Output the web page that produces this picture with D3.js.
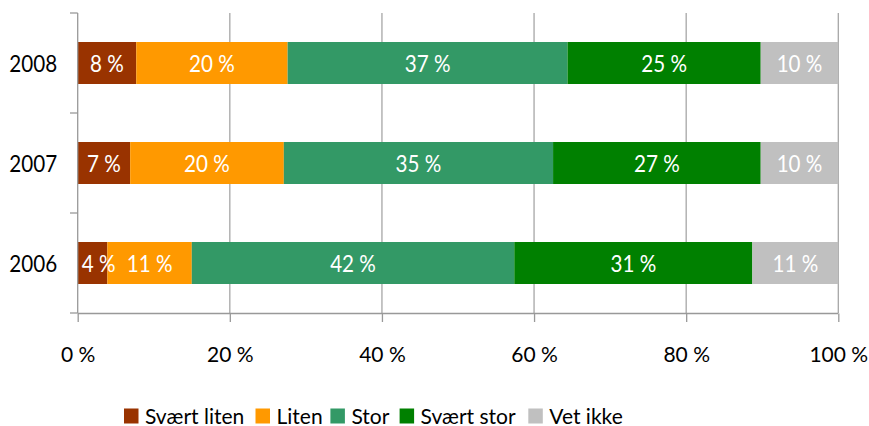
<!DOCTYPE html>
<html><head><meta charset="utf-8">
<script src="https://cdn.jsdelivr.net/npm/d3@7"></script>
<style>html,body{margin:0;padding:0;background:#fff;} svg{display:block;font-family:Lato, "Open Sans", sans-serif;}</style>
</head><body>
<svg id="c" width="869" height="426"></svg>
<script>
const years = ["2008", "2007", "2006"];
const seriesNames = ["Svært liten", "Liten", "Stor", "Svært stor", "Vet ikke"];
const seriesColors = ["#993300", "#FF9900", "#339966", "#008000", "#C0C0C0"];
const svaertLiten = [7.7, 6.9, 3.9];
const liten = [19.9, 20.2, 11.1];
const stor = [36.8, 35.4, 42.4];
const svaertStor = [25.4, 27.3, 31.3];
const vetIkke = [10.2, 10.2, 11.3];
const xTicks = [0, 20, 40, 60, 80, 100];

const seriesValues = [svaertLiten, liten, stor, svaertStor, vetIkke];
const rows = years.map((y, i) => {
  const r = {year: y};
  seriesNames.forEach((s, j) => r[s] = seriesValues[j][i]);
  return r;
});
const stack = d3.stack().keys(seriesNames)(rows);

const svg = d3.select("#c");
const x = d3.scaleLinear().domain([0, 100]).range([77.7, 838.3]);
const y = d3.scaleBand().domain(years).range([13, 313]).paddingInner(0.58).paddingOuter(0.29);
const axisColor = "#999";

// gridlines
svg.append("g").selectAll("line").data(xTicks.slice(1)).join("line")
  .attr("x1", d => x(d)).attr("x2", d => x(d)).attr("y1", 13).attr("y2", 313)
  .attr("stroke", "#A6A6A6").attr("stroke-width", 1.3);

// bars
const g = svg.append("g");
stack.forEach((layer, j) => {
  g.append("g").attr("fill", seriesColors[j]).selectAll("rect").data(layer).join("rect")
    .attr("x", d => x(d[0])).attr("width", d => x(d[1]) - x(d[0]))
    .attr("y", d => y(d.data.year)).attr("height", y.bandwidth());
});
// labels in bars
stack.forEach((layer, j) => {
  g.append("g").selectAll("text").data(layer).join("text")
    .attr("transform", d => `translate(${(x(d[0]) + x(d[1])) / 2},${y(d.data.year) + y.bandwidth() / 2 + 8.5}) scale(0.86,1)`)
    .attr("text-anchor", "middle").attr("fill", "#fff").attr("font-size", 24)
    .text(d => Math.round(d[1] - d[0]) + " %")
    .each(function(d) {
      // keep label inside the plot area (as the original does)
      const w = this.getComputedTextLength() * 0.86;
      const cx = (x(d[0]) + x(d[1])) / 2;
      const minCx = x(0) + 4 + w / 2;
      if (cx < minCx) {
        d3.select(this).attr("transform", `translate(${minCx},${y(d.data.year) + y.bandwidth() / 2 + 8.5}) scale(0.86,1)`);
      }
    });
});

// x axis
const xa = svg.append("g").attr("transform", "translate(0,313.5)")
  .call(d3.axisBottom(x).tickValues(xTicks).tickSize(8.5).tickPadding(0).tickFormat(d => d + " %"));
xa.select(".domain").attr("stroke", axisColor).attr("stroke-width", 1.3).attr("d", "M77.7,0H838.3");
xa.selectAll(".tick line").attr("stroke", axisColor).attr("stroke-width", 1.3);
xa.selectAll(".tick text").attr("fill", "#000").attr("font-size", 21).attr("font-family", "Lato")
  .attr("y", 48.5).attr("dy", 0);

// y axis
const ya = svg.append("g").attr("transform", "translate(77.7,0)")
  .call(d3.axisLeft(y).tickSize(0).tickPadding(0));
ya.select(".domain").attr("stroke", axisColor).attr("stroke-width", 1.3).attr("d", "M0,13V313");
ya.selectAll(".tick text").attr("fill", "#000").attr("font-size", 24).attr("font-family", "Lato")
  .attr("x", 0).attr("dy", 0).attr("text-anchor", "end")
  .attr("transform", `translate(-20.5,8.8) scale(0.86,1)`);
// category separator ticks
const sepY = [13, 113, 213, 313];
svg.append("g").selectAll("line").data(sepY).join("line")
  .attr("x1", 70).attr("x2", 77.7).attr("y1", d => d).attr("y2", d => d)
  .attr("stroke", axisColor).attr("stroke-width", 1.3);

// legend
const legendX = [124, 255.5, 330.4, 399.6, 528.3];
const lg = svg.append("g");
seriesNames.forEach((s, j) => {
  lg.append("rect").attr("x", legendX[j]).attr("y", 408.5).attr("width", 14.5).attr("height", 15).attr("fill", seriesColors[j]);
  lg.append("text").attr("x", legendX[j] + 21).attr("y", 423.5)
    .attr("font-size", 21).attr("fill", "#000").text(s);
});
</script>
</body></html>
